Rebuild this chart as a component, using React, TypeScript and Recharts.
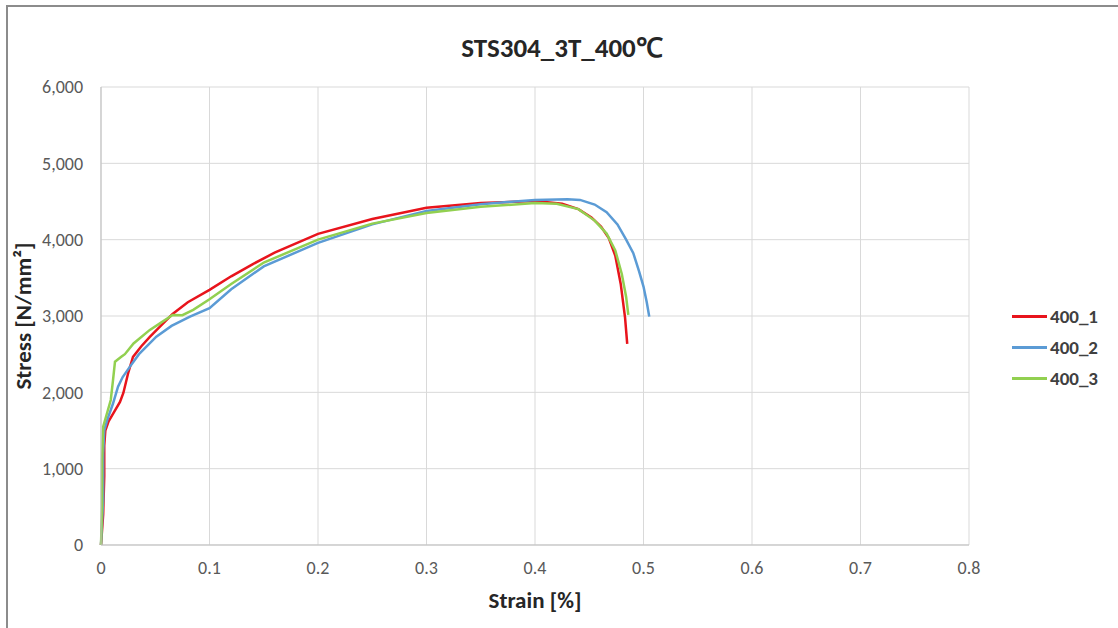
import React from "react";
import { LineChart, Line, XAxis, YAxis, CartesianGrid } from "recharts";

// strain [%], stress [N/mm2]
const strain1 = [0, 0.002, 0.003, 0.003, 0.004, 0.007, 0.012, 0.0175, 0.0206, 0.025, 0.0295, 0.037, 0.045, 0.055, 0.066, 0.08, 0.1, 0.12, 0.14, 0.16, 0.2, 0.25, 0.3, 0.35, 0.4, 0.425, 0.44, 0.452, 0.461, 0.468, 0.474, 0.479, 0.483, 0.485];
const stress1 = [0, 400, 900, 1300, 1500, 1620, 1740, 1874, 1992, 2250, 2464, 2600, 2726, 2870, 3027, 3180, 3342, 3520, 3680, 3830, 4076, 4270, 4417, 4480, 4505, 4470, 4400, 4290, 4170, 4020, 3790, 3420, 2980, 2634];

const strain2 = [0, 0.002, 0.002, 0.003, 0.006, 0.011, 0.0157, 0.02, 0.0267, 0.035, 0.051, 0.065, 0.082, 0.1, 0.12, 0.15, 0.2, 0.25, 0.3, 0.35, 0.4, 0.43, 0.4415, 0.455, 0.466, 0.476, 0.484, 0.4906, 0.496, 0.5, 0.503, 0.5053];
const stress2 = [0, 600, 1200, 1500, 1650, 1850, 2075, 2200, 2337, 2500, 2730, 2870, 2992, 3102, 3350, 3650, 3958, 4200, 4377, 4465, 4521, 4530, 4521, 4460, 4360, 4200, 4000, 3823, 3580, 3385, 3180, 2992];

const strain3 = [0, 0.001, 0.001, 0.002, 0.005, 0.009, 0.011, 0.0129, 0.019, 0.022, 0.03, 0.045, 0.055, 0.066, 0.075, 0.085, 0.1, 0.12, 0.15, 0.2, 0.25, 0.3, 0.35, 0.4, 0.42, 0.44, 0.455, 0.466, 0.474, 0.48, 0.484, 0.486];
const stress3 = [0, 500, 1100, 1550, 1700, 1900, 2150, 2402, 2468, 2500, 2640, 2818, 2910, 3014, 3010, 3080, 3220, 3420, 3700, 4000, 4210, 4350, 4430, 4480, 4470, 4400, 4250, 4080, 3860, 3550, 3250, 3014];

const xTicks = [0, 0.1, 0.2, 0.3, 0.4, 0.5, 0.6, 0.7, 0.8];
const yTicks = [0, 1000, 2000, 3000, 4000, 5000, 6000];

const seriesNames = ["400_1", "400_2", "400_3"];
const seriesColors = ["#e8141c", "#5b9bd5", "#92d050"];

const toPoints = (xs: number[], ys: number[]) =>
  xs.map((x, i) => ({ strain: x, stress: ys[i] }));

const series = [
  toPoints(strain1, stress1),
  toPoints(strain2, stress2),
  toPoints(strain3, stress3),
];

const font = "Carlito, 'Open Sans', 'Liberation Sans', sans-serif";

function LegendBox() {
  return (
    <div style={{ position: "absolute", left: 1012, top: 301, fontFamily: font }}>
      {seriesNames.map((name, i) => (
        <div
          key={name}
          style={{ display: "flex", alignItems: "center", height: 31 }}
        >
          <div
            style={{
              width: 35,
              height: 3,
              background: seriesColors[i],
              marginRight: 3,
            }}
          />
          <span style={{ fontSize: 19, fontWeight: 700, color: "#404040" }}>
            {name}
          </span>
        </div>
      ))}
    </div>
  );
}

export default function App() {
  return (
    <div
      style={{
        position: "fixed",
        top: 0,
        left: 0,
        width: 1118,
        height: 628,
        background: "#fff",
        fontFamily: font,
      }}
    >
      <div
        style={{
          position: "absolute",
          top: 5,
          left: 6,
          right: 0,
          bottom: 0,
          borderTop: "2px solid #8c8c8c",
          borderLeft: "2px solid #8c8c8c",
        }}
      />
      <div
        style={{
          position: "absolute",
          top: 28,
          left: 0,
          width: 1124,
          textAlign: "center",
          fontSize: 27,
          fontWeight: 700,
          color: "#262626",
        }}
      >
        STS304_3T_400℃
      </div>
      <LineChart
        width={1118}
        height={628}
        margin={{ top: 87, right: 149, bottom: 0, left: 0 }}
        style={{ position: "absolute", top: 0, left: 0 }}
      >
        <CartesianGrid stroke="#d9d9d9" strokeWidth={1} />
        <XAxis
          type="number"
          dataKey="strain"
          domain={[0, 0.8]}
          ticks={xTicks}
          tickFormatter={(v: number) => String(v)}
          stroke="#bfbfbf"
          tickLine={false}
          height={83}
          tickMargin={10}
          tick={{ fill: "#595959", fontSize: 18 }}
          allowDuplicatedCategory={false}
          label={{
            value: "Strain [%]",
            position: "insideBottom",
            offset: 20,
            fill: "#262626",
            fontSize: 23,
            fontWeight: 700,
          }}
        />
        <YAxis
          type="number"
          dataKey="stress"
          domain={[0, 6000]}
          ticks={yTicks}
          tickFormatter={(v: number) => v.toLocaleString("en-US")}
          stroke="#bfbfbf"
          tickLine={false}
          width={101}
          tickMargin={12}
          tick={{ fill: "#595959", fontSize: 18 }}
          label={{
            value: "Stress [N/mm²]",
            angle: -90,
            position: "center",
            dx: -28,
            fill: "#262626",
            fontSize: 23,
            fontWeight: 700,
          }}
        />
        {series.map((pts, i) => (
          <Line
            key={seriesNames[i]}
            data={pts}
            dataKey="stress"
            name={seriesNames[i]}
            type="linear"
            stroke={seriesColors[i]}
            strokeWidth={2.5}
            dot={false}
            activeDot={false}
            isAnimationActive={false}
          />
        ))}
      </LineChart>
      <LegendBox />
    </div>
  );
}
